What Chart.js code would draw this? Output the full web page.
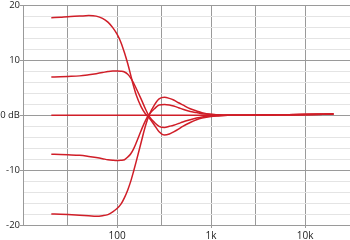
<html>
<head>
    <title>Shelf EQ response</title>
    <script src="https://cdn.jsdelivr.net/npm/chart.js@4.4.1/dist/chart.umd.min.js"></script>
    <style>
        body { margin: 0; background: #fff; }
    </style>
</head>
<body>
<canvas id="eqChart" width="350" height="240"></canvas>

<script>
  // frequencies (Hz) shared by every curve
  const freqs = [20, 25, 30, 40, 50, 60, 70, 80, 90, 100, 110, 120, 130, 140, 150, 160, 180, 200, 220,
    250, 280, 320, 360, 400, 450, 500, 600, 700, 800, 1000, 1200, 1500, 2000, 3000, 5000, 10000, 20000]

  // gain in dB for each setting
  const boost18 = [17.8, 17.9, 18.0, 18.1, 18.2, 18.1, 17.7, 17.0, 16.0, 14.8, 13.3, 11.4, 9.4, 7.3, 5.3, 3.7, 1.6, 0.3, -0.5,
    -1.8, -3.0, -3.6, -3.4, -3.0, -2.5, -2.0, -1.3, -0.8, -0.5, -0.2, -0.1, 0.0, 0.0, 0.05, 0.1, 0.15, 0.25]
  const boost7 = [7.0, 7.05, 7.1, 7.2, 7.4, 7.6, 7.8, 8.0, 8.1, 8.1, 8.05, 7.9, 7.5, 6.8, 5.9, 4.9, 3.0, 1.2, -0.2,
    -1.3, -2.0, -2.2, -2.0, -1.8, -1.5, -1.2, -0.8, -0.5, -0.3, -0.15, -0.05, 0.0, 0.0, 0.05, 0.1, 0.15, 0.25]
  const flat = [0, 0, 0, 0, 0, 0, 0, 0, 0, 0, 0, 0, 0, 0, 0, 0, 0, 0, 0,
    0, 0, 0, 0, 0, 0, 0, 0, 0, 0, 0, 0, 0, 0.02, 0.05, 0.1, 0.15, 0.25]
  const cut7 = [-7.1, -7.15, -7.2, -7.3, -7.5, -7.7, -7.9, -8.1, -8.2, -8.25, -8.2, -8.1, -7.6, -7.0, -6.1, -5.0, -2.8, -1.0, 0.2,
    1.2, 1.9, 2.0, 1.9, 1.7, 1.4, 1.1, 0.7, 0.5, 0.3, 0.15, 0.05, 0.0, 0.0, 0.05, 0.1, 0.15, 0.25]
  const cut18 = [-18.0, -18.05, -18.1, -18.2, -18.3, -18.4, -18.3, -18.1, -17.6, -17.0, -16.2, -15.0, -13.6, -12.0, -10.2, -8.4, -5.0, -2.0, 0.1,
    1.9, 3.0, 3.3, 3.1, 2.8, 2.3, 1.9, 1.2, 0.8, 0.5, 0.2, 0.1, 0.0, 0.0, 0.05, 0.1, 0.15, 0.25]

  // x grid lines and which of them carry a label
  const xGridValues = [30, 100, 300, 1000, 3000, 10000]
  const xTickLabels = { 100: '100', 1000: '1k', 10000: '10k' }

  const curves = [boost18, boost7, flat, cut7, cut18]
  const red = 'rgb(208, 30, 40)'

  let datasets = curves.map(function (vals) {
    return {
      data: freqs.map(function (f, i) { return { x: f, y: vals[i] } }),
      borderColor: red,
      borderWidth: 1.5,
      pointRadius: 0,
      fill: false,
      cubicInterpolationMode: 'monotone'
    }
  })

  Chart.defaults.font.family = "'Open Sans', sans-serif"
  Chart.defaults.font.size = 10
  Chart.defaults.color = '#222'

  new Chart(document.getElementById('eqChart'), {
    type: 'line',
    data: { datasets: datasets },
    options: {
      responsive: false,
      animation: false,
      layout: { padding: { top: 5, right: 0, left: 0, bottom: 0 } },
      plugins: { legend: { display: false }, tooltip: { enabled: false } },
      scales: {
        x: {
          type: 'logarithmic',
          min: 10,
          max: 30000,
          afterBuildTicks: function (scale) {
            scale.ticks = xGridValues.map(function (v) { return { value: v } })
          },
          afterFit: function (scale) { scale.height = 15 },
          ticks: {
            autoSkip: false,
            maxRotation: 0,
            padding: 2,
            callback: function (v) { return xTickLabels[v] || '' }
          },
          grid: {
            color: '#9a9a9a',
            tickLength: 3,
            tickColor: function (ctx) { return xTickLabels[ctx.tick.value] ? '#9a9a9a' : 'rgba(0,0,0,0)' }
          },
          border: { color: '#9a9a9a' }
        },
        y: {
          min: -20,
          max: 20,
          afterFit: function (scale) { scale.width = 23 },
          ticks: {
            stepSize: 2,
            autoSkip: false,
            padding: 0,
            font: { size: 9.5 },
            callback: function (v) {
              if (v % 10 !== 0) return ''
              return v === 0 ? '0 dB' : String(v)
            }
          },
          grid: {
            color: function (ctx) { return ctx.tick.value % 10 === 0 ? '#9a9a9a' : '#e4e4e4' },
            tickLength: 3,
            tickColor: function (ctx) { return ctx.tick.value % 10 === 0 ? '#9a9a9a' : 'rgba(0,0,0,0)' }
          },
          border: { color: '#9a9a9a' }
        }
      }
    }
  })
</script>
</body>
</html>
